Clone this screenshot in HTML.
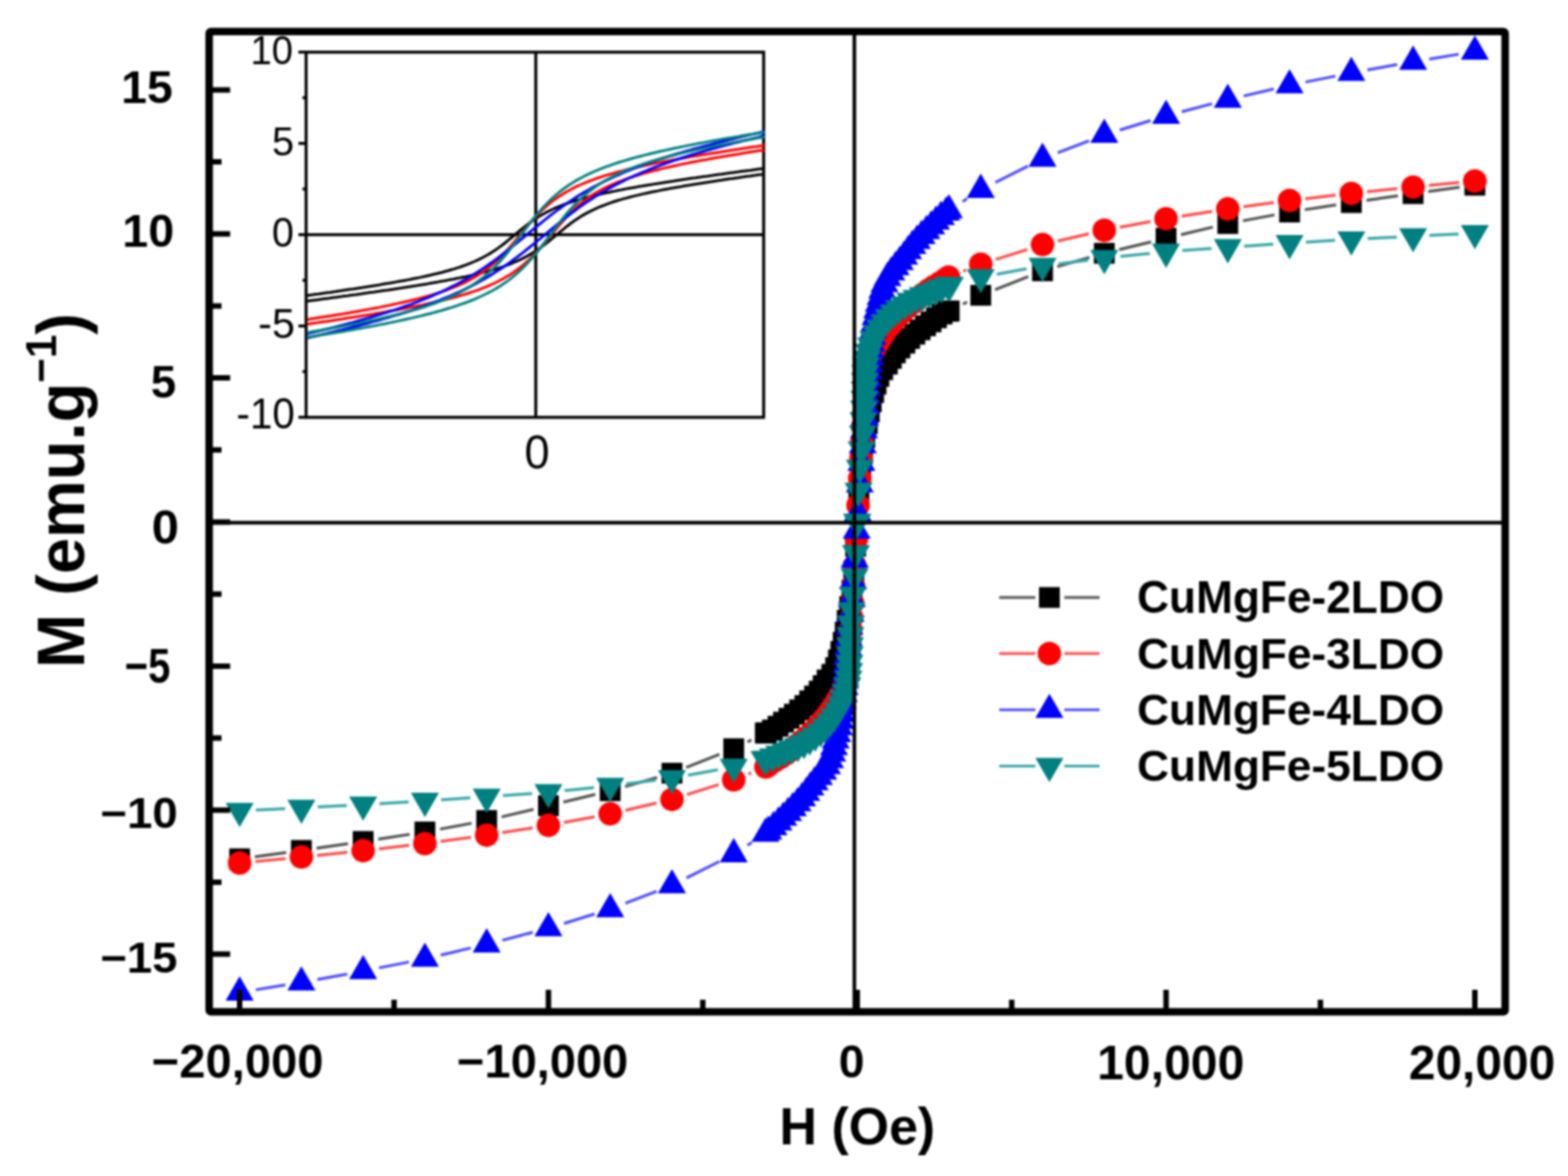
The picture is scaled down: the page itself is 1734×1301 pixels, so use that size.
<!DOCTYPE html><html><head><meta charset="utf-8"><style>html,body{margin:0;padding:0;background:#fff}svg{display:block}</style></head><body><svg xmlns="http://www.w3.org/2000/svg" width="1734" height="1301" viewBox="0 0 1734 1301">
<defs><filter id="bl" x="0" y="0" width="1734" height="1301" filterUnits="userSpaceOnUse" color-interpolation-filters="sRGB"><feGaussianBlur stdDeviation="1.0"/></filter></defs>
<rect width="100%" height="100%" fill="#fff"/>
<g filter="url(#bl)">
<rect width="100%" height="100%" fill="#fff"/>
<path d="M1064.9 336.4L1069.4 334.2 M1100.4 320.4L1137.1 305.9 M1169.3 294.9L1204.8 284.8 M1237.7 276.1L1273.0 267.6 M1306.0 259.6L1341.3 251.3 M1374.5 244.2L1409.4 237.7 M1442.9 232.0L1477.6 226.6 M1511.2 221.6L1545.9 216.6 M1579.5 211.9L1614.2 207.2 M831.1 818.6L826.6 820.8 M795.6 834.6L758.9 849.1 M726.7 860.1L691.2 870.2 M658.3 878.9L623.0 887.4 M590.0 895.4L554.7 903.7 M521.5 910.8L486.6 917.3 M453.1 923.0L418.4 928.4 M384.8 933.4L350.1 938.4 M316.5 943.1L281.8 947.8" stroke="#555555" stroke-width="3.2" fill="none"/>
<g fill="#000000">
<rect x="938.3" y="539.2" width="23.0" height="23.0"/>
<rect x="940.3" y="511.6" width="23.0" height="23.0"/>
<rect x="942.3" y="490.5" width="23.0" height="23.0"/>
<rect x="944.8" y="472.5" width="23.0" height="23.0"/>
<rect x="947.6" y="457.3" width="23.0" height="23.0"/>
<rect x="949.8" y="444.2" width="23.0" height="23.0"/>
<rect x="952.0" y="433.0" width="23.0" height="23.0"/>
<rect x="954.6" y="422.8" width="23.0" height="23.0"/>
<rect x="957.3" y="413.5" width="23.0" height="23.0"/>
<rect x="960.4" y="404.9" width="23.0" height="23.0"/>
<rect x="964.6" y="397.5" width="23.0" height="23.0"/>
<rect x="969.8" y="391.3" width="23.0" height="23.0"/>
<rect x="974.2" y="385.0" width="23.0" height="23.0"/>
<rect x="978.6" y="378.9" width="23.0" height="23.0"/>
<rect x="983.7" y="373.5" width="23.0" height="23.0"/>
<rect x="989.1" y="368.2" width="23.0" height="23.0"/>
<rect x="994.4" y="363.0" width="23.0" height="23.0"/>
<rect x="1000.2" y="358.2" width="23.0" height="23.0"/>
<rect x="1006.0" y="353.4" width="23.0" height="23.0"/>
<rect x="1012.0" y="348.9" width="23.0" height="23.0"/>
<rect x="1018.1" y="344.6" width="23.0" height="23.0"/>
<rect x="1024.1" y="340.1" width="23.0" height="23.0"/>
<rect x="1030.3" y="335.9" width="23.0" height="23.0"/>
<rect x="1037.1" y="332.8" width="23.0" height="23.0"/>
<rect x="1038.2" y="332.5" width="23.0" height="23.0"/>
<rect x="934.7" y="592.8" width="23.0" height="23.0"/>
<rect x="932.7" y="620.4" width="23.0" height="23.0"/>
<rect x="930.7" y="641.5" width="23.0" height="23.0"/>
<rect x="928.2" y="659.5" width="23.0" height="23.0"/>
<rect x="925.4" y="674.7" width="23.0" height="23.0"/>
<rect x="923.2" y="687.8" width="23.0" height="23.0"/>
<rect x="921.0" y="699.0" width="23.0" height="23.0"/>
<rect x="918.4" y="709.2" width="23.0" height="23.0"/>
<rect x="915.7" y="718.5" width="23.0" height="23.0"/>
<rect x="912.6" y="727.1" width="23.0" height="23.0"/>
<rect x="908.4" y="734.5" width="23.0" height="23.0"/>
<rect x="903.2" y="740.7" width="23.0" height="23.0"/>
<rect x="898.8" y="747.0" width="23.0" height="23.0"/>
<rect x="894.4" y="753.1" width="23.0" height="23.0"/>
<rect x="889.3" y="758.5" width="23.0" height="23.0"/>
<rect x="883.9" y="763.8" width="23.0" height="23.0"/>
<rect x="878.6" y="769.0" width="23.0" height="23.0"/>
<rect x="872.8" y="773.8" width="23.0" height="23.0"/>
<rect x="867.0" y="778.6" width="23.0" height="23.0"/>
<rect x="861.0" y="783.1" width="23.0" height="23.0"/>
<rect x="854.9" y="787.4" width="23.0" height="23.0"/>
<rect x="848.9" y="791.9" width="23.0" height="23.0"/>
<rect x="842.7" y="796.1" width="23.0" height="23.0"/>
<rect x="835.9" y="799.2" width="23.0" height="23.0"/>
<rect x="834.8" y="799.5" width="23.0" height="23.0"/>
<rect x="1073.1" y="315.2" width="23.0" height="23.0"/>
<rect x="1141.4" y="288.1" width="23.0" height="23.0"/>
<rect x="1209.7" y="268.7" width="23.0" height="23.0"/>
<rect x="1278.0" y="252.1" width="23.0" height="23.0"/>
<rect x="1346.3" y="235.8" width="23.0" height="23.0"/>
<rect x="1414.6" y="223.1" width="23.0" height="23.0"/>
<rect x="1482.9" y="212.6" width="23.0" height="23.0"/>
<rect x="1551.2" y="202.7" width="23.0" height="23.0"/>
<rect x="1619.5" y="193.4" width="23.0" height="23.0"/>
<rect x="799.9" y="816.8" width="23.0" height="23.0"/>
<rect x="731.6" y="843.9" width="23.0" height="23.0"/>
<rect x="663.3" y="863.3" width="23.0" height="23.0"/>
<rect x="595.0" y="879.9" width="23.0" height="23.0"/>
<rect x="526.7" y="896.2" width="23.0" height="23.0"/>
<rect x="458.4" y="908.9" width="23.0" height="23.0"/>
<rect x="390.1" y="919.4" width="23.0" height="23.0"/>
<rect x="321.8" y="929.3" width="23.0" height="23.0"/>
<rect x="253.5" y="938.6" width="23.0" height="23.0"/>
</g>
<path d="M1065.2 300.0L1068.4 298.8 M1101.3 287.0L1136.2 275.9 M1169.9 266.6L1204.2 258.6 M1238.4 251.4L1272.3 245.1 M1306.8 239.2L1340.5 233.8 M1375.1 228.7L1408.8 224.2 M1443.5 219.8L1477.0 215.9 M1511.8 212.1L1545.3 208.6 M1580.1 205.1L1613.6 201.9 M830.8 855.0L827.6 856.2 M794.7 868.0L759.8 879.1 M726.1 888.4L691.8 896.4 M657.6 903.6L623.7 909.9 M589.2 915.8L555.5 921.2 M520.9 926.3L487.2 930.8 M452.5 935.2L419.0 939.1 M384.2 942.9L350.7 946.4 M315.9 949.9L282.4 953.1" stroke="#ff4d4d" stroke-width="3.2" fill="none"/>
<g fill="#ff0000">
<circle cx="948.9" cy="558.9" r="13.0"/>
<circle cx="950.7" cy="529.2" r="13.0"/>
<circle cx="952.1" cy="506.9" r="13.0"/>
<circle cx="953.2" cy="488.1" r="13.0"/>
<circle cx="954.2" cy="472.0" r="13.0"/>
<circle cx="955.1" cy="458.3" r="13.0"/>
<circle cx="956.0" cy="446.6" r="13.0"/>
<circle cx="956.8" cy="436.0" r="13.0"/>
<circle cx="957.6" cy="426.2" r="13.0"/>
<circle cx="958.2" cy="417.0" r="13.0"/>
<circle cx="959.0" cy="408.5" r="13.0"/>
<circle cx="960.4" cy="400.7" r="13.0"/>
<circle cx="962.9" cy="393.6" r="13.0"/>
<circle cx="966.4" cy="386.9" r="13.0"/>
<circle cx="970.2" cy="380.4" r="13.0"/>
<circle cx="974.1" cy="374.0" r="13.0"/>
<circle cx="978.2" cy="367.8" r="13.0"/>
<circle cx="982.7" cy="361.8" r="13.0"/>
<circle cx="987.6" cy="356.1" r="13.0"/>
<circle cx="992.6" cy="350.5" r="13.0"/>
<circle cx="997.9" cy="345.2" r="13.0"/>
<circle cx="1003.4" cy="340.1" r="13.0"/>
<circle cx="1009.1" cy="335.2" r="13.0"/>
<circle cx="1014.9" cy="330.4" r="13.0"/>
<circle cx="1020.6" cy="325.6" r="13.0"/>
<circle cx="1026.6" cy="321.1" r="13.0"/>
<circle cx="1032.9" cy="317.0" r="13.0"/>
<circle cx="1039.3" cy="313.1" r="13.0"/>
<circle cx="1045.6" cy="309.0" r="13.0"/>
<circle cx="1049.0" cy="306.5" r="13.0"/>
<circle cx="947.1" cy="596.1" r="13.0"/>
<circle cx="945.3" cy="625.8" r="13.0"/>
<circle cx="943.9" cy="648.1" r="13.0"/>
<circle cx="942.8" cy="666.9" r="13.0"/>
<circle cx="941.8" cy="683.0" r="13.0"/>
<circle cx="940.9" cy="696.7" r="13.0"/>
<circle cx="940.0" cy="708.4" r="13.0"/>
<circle cx="939.2" cy="719.0" r="13.0"/>
<circle cx="938.4" cy="728.8" r="13.0"/>
<circle cx="937.8" cy="738.0" r="13.0"/>
<circle cx="937.0" cy="746.5" r="13.0"/>
<circle cx="935.6" cy="754.3" r="13.0"/>
<circle cx="933.1" cy="761.4" r="13.0"/>
<circle cx="929.6" cy="768.1" r="13.0"/>
<circle cx="925.8" cy="774.6" r="13.0"/>
<circle cx="921.9" cy="781.0" r="13.0"/>
<circle cx="917.8" cy="787.2" r="13.0"/>
<circle cx="913.3" cy="793.2" r="13.0"/>
<circle cx="908.4" cy="798.9" r="13.0"/>
<circle cx="903.4" cy="804.5" r="13.0"/>
<circle cx="898.1" cy="809.8" r="13.0"/>
<circle cx="892.6" cy="814.9" r="13.0"/>
<circle cx="886.9" cy="819.8" r="13.0"/>
<circle cx="881.1" cy="824.6" r="13.0"/>
<circle cx="875.4" cy="829.4" r="13.0"/>
<circle cx="869.4" cy="833.9" r="13.0"/>
<circle cx="863.1" cy="838.0" r="13.0"/>
<circle cx="856.7" cy="841.9" r="13.0"/>
<circle cx="850.4" cy="846.0" r="13.0"/>
<circle cx="847.0" cy="848.5" r="13.0"/>
<circle cx="1084.6" cy="292.3" r="13.0"/>
<circle cx="1152.9" cy="270.6" r="13.0"/>
<circle cx="1221.2" cy="254.7" r="13.0"/>
<circle cx="1289.5" cy="241.9" r="13.0"/>
<circle cx="1357.8" cy="231.1" r="13.0"/>
<circle cx="1426.1" cy="221.8" r="13.0"/>
<circle cx="1494.4" cy="213.9" r="13.0"/>
<circle cx="1562.7" cy="206.9" r="13.0"/>
<circle cx="1631.0" cy="200.2" r="13.0"/>
<circle cx="811.4" cy="862.7" r="13.0"/>
<circle cx="743.1" cy="884.4" r="13.0"/>
<circle cx="674.8" cy="900.3" r="13.0"/>
<circle cx="606.5" cy="913.1" r="13.0"/>
<circle cx="538.2" cy="923.9" r="13.0"/>
<circle cx="469.9" cy="933.2" r="13.0"/>
<circle cx="401.6" cy="941.1" r="13.0"/>
<circle cx="333.3" cy="948.1" r="13.0"/>
<circle cx="265.0" cy="954.8" r="13.0"/>
</g>
<path d="M1064.5 223.0L1069.5 219.8 M1100.7 201.9L1136.8 183.7 M1169.7 169.1L1204.4 155.7 M1238.4 143.9L1272.3 133.4 M1306.9 123.6L1340.4 114.8 M1375.3 106.2L1408.6 98.4 M1443.7 90.8L1476.8 84.2 M1512.1 77.4L1545.0 71.4 M1580.5 65.3L1613.2 60.0 M831.5 932.0L826.5 935.2 M795.3 953.1L759.2 971.3 M726.3 985.9L691.6 999.3 M657.6 1011.1L623.7 1021.6 M589.1 1031.4L555.6 1040.2 M520.7 1048.8L487.4 1056.6 M452.3 1064.2L419.2 1070.8 M383.9 1077.6L351.0 1083.6 M315.5 1089.7L282.8 1095.0" stroke="#5050ff" stroke-width="3.2" fill="none"/>
<g fill="#0000ff">
<path d="M948.6 550.0L964.1 576.8L933.1 576.8Z"/>
<path d="M950.8 518.0L966.3 544.8L935.3 544.8Z"/>
<path d="M952.6 494.2L968.1 521.0L937.1 521.0Z"/>
<path d="M954.1 474.6L969.6 501.5L938.6 501.5Z"/>
<path d="M955.5 458.0L971.0 484.8L940.0 484.8Z"/>
<path d="M956.6 443.7L972.1 470.5L941.1 470.5Z"/>
<path d="M957.5 431.5L973.0 458.3L942.0 458.3Z"/>
<path d="M958.3 420.8L973.8 447.6L942.8 447.6Z"/>
<path d="M959.0 410.8L974.5 437.6L943.5 437.6Z"/>
<path d="M959.8 401.4L975.3 428.3L944.3 428.3Z"/>
<path d="M960.5 392.7L976.0 419.6L945.0 419.6Z"/>
<path d="M961.2 384.6L976.7 411.5L945.7 411.5Z"/>
<path d="M962.0 377.1L977.5 403.9L946.5 403.9Z"/>
<path d="M962.9 369.6L978.4 396.5L947.4 396.5Z"/>
<path d="M963.8 362.2L979.3 389.0L948.3 389.0Z"/>
<path d="M964.8 354.7L980.3 381.6L949.3 381.6Z"/>
<path d="M965.9 347.3L981.4 374.2L950.4 374.2Z"/>
<path d="M967.0 339.9L982.5 366.7L951.5 366.7Z"/>
<path d="M968.3 332.5L983.8 359.4L952.8 359.4Z"/>
<path d="M970.0 325.2L985.5 352.0L954.5 352.0Z"/>
<path d="M971.8 317.9L987.3 344.8L956.3 344.8Z"/>
<path d="M973.7 310.7L989.2 337.5L958.2 337.5Z"/>
<path d="M975.6 303.4L991.1 330.3L960.1 330.3Z"/>
<path d="M978.1 296.3L993.6 323.2L962.6 323.2Z"/>
<path d="M981.4 289.6L996.9 316.5L965.9 316.5Z"/>
<path d="M985.7 283.4L1001.2 310.3L970.2 310.3Z"/>
<path d="M990.4 277.6L1005.9 304.5L974.9 304.5Z"/>
<path d="M995.1 271.8L1010.6 298.7L979.6 298.7Z"/>
<path d="M999.8 265.9L1015.3 292.8L984.3 292.8Z"/>
<path d="M1004.3 260.0L1019.8 286.8L988.8 286.8Z"/>
<path d="M1009.0 254.1L1024.5 281.0L993.5 281.0Z"/>
<path d="M1014.0 248.5L1029.5 275.4L998.5 275.4Z"/>
<path d="M1019.2 243.1L1034.7 270.0L1003.7 270.0Z"/>
<path d="M1024.5 237.8L1040.0 264.6L1009.0 264.6Z"/>
<path d="M1029.8 232.5L1045.3 259.3L1014.3 259.3Z"/>
<path d="M1035.1 227.2L1050.6 254.1L1019.6 254.1Z"/>
<path d="M1040.6 222.1L1056.1 249.0L1025.1 249.0Z"/>
<path d="M1046.3 217.2L1061.8 244.1L1030.8 244.1Z"/>
<path d="M1049.4 214.8L1064.9 241.6L1033.9 241.6Z"/>
<path d="M947.4 569.2L962.9 596.1L931.9 596.1Z"/>
<path d="M945.2 601.2L960.7 628.1L929.7 628.1Z"/>
<path d="M943.4 625.0L958.9 651.9L927.9 651.9Z"/>
<path d="M941.9 644.6L957.4 671.4L926.4 671.4Z"/>
<path d="M940.5 661.2L956.0 688.1L925.0 688.1Z"/>
<path d="M939.4 675.5L954.9 702.4L923.9 702.4Z"/>
<path d="M938.5 687.7L954.0 714.6L923.0 714.6Z"/>
<path d="M937.7 698.4L953.2 725.3L922.2 725.3Z"/>
<path d="M937.0 708.5L952.5 735.3L921.5 735.3Z"/>
<path d="M936.2 717.8L951.7 744.6L920.7 744.6Z"/>
<path d="M935.5 726.5L951.0 753.3L920.0 753.3Z"/>
<path d="M934.8 734.6L950.3 761.4L919.3 761.4Z"/>
<path d="M934.0 742.1L949.5 769.0L918.5 769.0Z"/>
<path d="M933.1 749.6L948.6 776.4L917.6 776.4Z"/>
<path d="M932.2 757.0L947.7 783.9L916.7 783.9Z"/>
<path d="M931.2 764.5L946.7 791.3L915.7 791.3Z"/>
<path d="M930.1 771.9L945.6 798.7L914.6 798.7Z"/>
<path d="M929.0 779.3L944.5 806.2L913.5 806.2Z"/>
<path d="M927.7 786.7L943.2 813.5L912.2 813.5Z"/>
<path d="M926.0 794.0L941.5 820.9L910.5 820.9Z"/>
<path d="M924.2 801.3L939.7 828.1L908.7 828.1Z"/>
<path d="M922.3 808.5L937.8 835.4L906.8 835.4Z"/>
<path d="M920.4 815.8L935.9 842.6L904.9 842.6Z"/>
<path d="M917.9 822.9L933.4 849.7L902.4 849.7Z"/>
<path d="M914.6 829.6L930.1 856.4L899.1 856.4Z"/>
<path d="M910.3 835.8L925.8 862.6L894.8 862.6Z"/>
<path d="M905.6 841.6L921.1 868.4L890.1 868.4Z"/>
<path d="M900.9 847.4L916.4 874.2L885.4 874.2Z"/>
<path d="M896.2 853.3L911.7 880.1L880.7 880.1Z"/>
<path d="M891.7 859.2L907.2 886.1L876.2 886.1Z"/>
<path d="M887.0 865.1L902.5 891.9L871.5 891.9Z"/>
<path d="M882.0 870.7L897.5 897.5L866.5 897.5Z"/>
<path d="M876.8 876.1L892.3 902.9L861.3 902.9Z"/>
<path d="M871.5 881.4L887.0 908.3L856.0 908.3Z"/>
<path d="M866.2 886.7L881.7 913.6L850.7 913.6Z"/>
<path d="M860.9 892.0L876.4 918.8L845.4 918.8Z"/>
<path d="M855.4 897.1L870.9 923.9L839.9 923.9Z"/>
<path d="M849.7 902.0L865.2 928.8L834.2 928.8Z"/>
<path d="M846.6 904.4L862.1 931.2L831.1 931.2Z"/>
<path d="M1084.6 192.1L1100.1 219.0L1069.1 219.0Z"/>
<path d="M1152.9 157.7L1168.4 184.6L1137.4 184.6Z"/>
<path d="M1221.2 131.3L1236.7 158.1L1205.7 158.1Z"/>
<path d="M1289.5 110.2L1305.0 137.1L1274.0 137.1Z"/>
<path d="M1357.8 92.4L1373.3 119.2L1342.3 119.2Z"/>
<path d="M1426.1 76.5L1441.6 103.3L1410.6 103.3Z"/>
<path d="M1494.4 62.7L1509.9 89.6L1478.9 89.6Z"/>
<path d="M1562.7 50.3L1578.2 77.2L1547.2 77.2Z"/>
<path d="M1631.0 39.2L1646.5 66.0L1615.5 66.0Z"/>
<path d="M811.4 927.1L826.9 953.9L795.9 953.9Z"/>
<path d="M743.1 961.5L758.6 988.3L727.6 988.3Z"/>
<path d="M674.8 987.9L690.3 1014.8L659.3 1014.8Z"/>
<path d="M606.5 1009.0L622.0 1035.8L591.0 1035.8Z"/>
<path d="M538.2 1026.8L553.7 1053.7L522.7 1053.7Z"/>
<path d="M469.9 1042.8L485.4 1069.6L454.4 1069.6Z"/>
<path d="M401.6 1056.5L417.1 1083.3L386.1 1083.3Z"/>
<path d="M333.3 1068.9L348.8 1095.7L317.8 1095.7Z"/>
<path d="M265.0 1080.0L280.5 1106.9L249.5 1106.9Z"/>
</g>
<path d="M1102.3 303.4L1135.2 297.4 M1170.8 291.9L1203.3 287.8 M1239.1 283.7L1271.6 280.4 M1307.5 277.2L1339.8 274.8 M1375.8 272.3L1408.1 270.2 M1444.1 267.9L1476.4 265.9 M1512.4 263.9L1544.7 262.3 M1580.7 260.4L1613.0 258.8 M793.7 851.6L760.8 857.6 M725.2 863.1L692.7 867.2 M656.9 871.3L624.4 874.6 M588.5 877.8L556.2 880.2 M520.2 882.7L487.9 884.8 M451.9 887.1L419.6 889.1 M383.6 891.1L351.3 892.7 M315.3 894.6L283.0 896.2" stroke="#3aa8a8" stroke-width="3.2" fill="none"/>
<g fill="#008080">
<path d="M948.0 595.4L963.5 568.6L932.5 568.6Z"/>
<path d="M949.4 560.9L964.9 534.0L933.9 534.0Z"/>
<path d="M950.9 535.3L966.4 508.4L935.4 508.4Z"/>
<path d="M952.8 515.0L968.3 488.2L937.3 488.2Z"/>
<path d="M954.2 497.7L969.7 470.8L938.7 470.8Z"/>
<path d="M955.0 482.8L970.5 456.0L939.5 456.0Z"/>
<path d="M955.6 470.1L971.1 443.3L940.1 443.3Z"/>
<path d="M956.0 459.1L971.5 432.3L940.5 432.3Z"/>
<path d="M956.3 448.9L971.8 422.1L940.8 422.1Z"/>
<path d="M956.6 439.4L972.1 412.6L941.1 412.6Z"/>
<path d="M956.9 430.5L972.4 403.7L941.4 403.7Z"/>
<path d="M957.6 422.3L973.1 395.4L942.1 395.4Z"/>
<path d="M958.9 414.7L974.4 387.8L943.4 387.8Z"/>
<path d="M960.9 407.5L976.4 380.6L945.4 380.6Z"/>
<path d="M963.2 400.3L978.7 373.5L947.7 373.5Z"/>
<path d="M965.9 393.3L981.4 366.5L950.4 366.5Z"/>
<path d="M969.3 386.7L984.8 359.8L953.8 359.8Z"/>
<path d="M973.5 380.4L989.0 353.6L958.0 353.6Z"/>
<path d="M978.1 374.5L993.6 347.7L962.6 347.7Z"/>
<path d="M983.0 368.9L998.5 342.0L967.5 342.0Z"/>
<path d="M988.5 363.7L1004.0 336.9L973.0 336.9Z"/>
<path d="M994.4 359.1L1009.9 332.2L978.9 332.2Z"/>
<path d="M1000.5 354.7L1016.0 327.9L985.0 327.9Z"/>
<path d="M1006.9 350.8L1022.4 324.0L991.4 324.0Z"/>
<path d="M1013.6 347.5L1029.1 320.7L998.1 320.7Z"/>
<path d="M1020.5 344.7L1036.0 317.8L1005.0 317.8Z"/>
<path d="M1027.5 341.8L1043.0 315.0L1012.0 315.0Z"/>
<path d="M1034.3 338.8L1049.8 312.0L1018.8 312.0Z"/>
<path d="M1041.2 335.9L1056.7 309.1L1025.7 309.1Z"/>
<path d="M1048.4 333.6L1063.9 306.8L1032.9 306.8Z"/>
<path d="M1050.5 333.1L1066.0 306.3L1035.0 306.3Z"/>
<path d="M948.0 595.4L963.5 568.6L932.5 568.6Z"/>
<path d="M946.6 629.9L962.1 603.1L931.1 603.1Z"/>
<path d="M945.1 655.5L960.6 628.7L929.6 628.7Z"/>
<path d="M943.2 675.8L958.7 648.9L927.7 648.9Z"/>
<path d="M941.8 693.1L957.3 666.3L926.3 666.3Z"/>
<path d="M941.0 708.0L956.5 681.1L925.5 681.1Z"/>
<path d="M940.4 720.7L955.9 693.8L924.9 693.8Z"/>
<path d="M940.0 731.7L955.5 704.9L924.5 704.9Z"/>
<path d="M939.7 741.9L955.2 715.0L924.2 715.0Z"/>
<path d="M939.4 751.4L954.9 724.6L923.9 724.6Z"/>
<path d="M939.1 760.3L954.6 733.4L923.6 733.4Z"/>
<path d="M938.4 768.5L953.9 741.7L922.9 741.7Z"/>
<path d="M937.1 776.1L952.6 749.3L921.6 749.3Z"/>
<path d="M935.1 783.3L950.6 756.5L919.6 756.5Z"/>
<path d="M932.8 790.5L948.3 763.6L917.3 763.6Z"/>
<path d="M930.1 797.5L945.6 770.6L914.6 770.6Z"/>
<path d="M926.7 804.1L942.2 777.3L911.2 777.3Z"/>
<path d="M922.5 810.4L938.0 783.5L907.0 783.5Z"/>
<path d="M917.9 816.3L933.4 789.4L902.4 789.4Z"/>
<path d="M913.0 821.9L928.5 795.1L897.5 795.1Z"/>
<path d="M907.5 827.0L923.0 800.2L892.0 800.2Z"/>
<path d="M901.6 831.7L917.1 804.9L886.1 804.9Z"/>
<path d="M895.5 836.1L911.0 809.2L880.0 809.2Z"/>
<path d="M889.1 840.0L904.6 813.1L873.6 813.1Z"/>
<path d="M882.4 843.3L897.9 816.4L866.9 816.4Z"/>
<path d="M875.5 846.1L891.0 819.3L860.0 819.3Z"/>
<path d="M868.5 848.9L884.0 822.1L853.0 822.1Z"/>
<path d="M861.7 852.0L877.2 825.1L846.2 825.1Z"/>
<path d="M854.8 854.9L870.3 828.0L839.3 828.0Z"/>
<path d="M847.6 857.2L863.1 830.4L832.1 830.4Z"/>
<path d="M845.5 857.7L861.0 830.9L830.0 830.9Z"/>
<path d="M1084.6 324.5L1100.1 297.7L1069.1 297.7Z"/>
<path d="M1152.9 312.1L1168.4 285.2L1137.4 285.2Z"/>
<path d="M1221.2 303.5L1236.7 276.6L1205.7 276.6Z"/>
<path d="M1289.5 296.5L1305.0 269.6L1274.0 269.6Z"/>
<path d="M1357.8 291.4L1373.3 264.5L1342.3 264.5Z"/>
<path d="M1426.1 286.9L1441.6 260.0L1410.6 260.0Z"/>
<path d="M1494.4 282.8L1509.9 255.9L1478.9 255.9Z"/>
<path d="M1562.7 279.2L1578.2 252.4L1547.2 252.4Z"/>
<path d="M1631.0 275.7L1646.5 248.9L1615.5 248.9Z"/>
<path d="M811.4 866.3L826.9 839.4L795.9 839.4Z"/>
<path d="M743.1 878.7L758.6 851.9L727.6 851.9Z"/>
<path d="M674.8 887.3L690.3 860.5L659.3 860.5Z"/>
<path d="M606.5 894.3L622.0 867.5L591.0 867.5Z"/>
<path d="M538.2 899.4L553.7 872.6L522.7 872.6Z"/>
<path d="M469.9 903.9L485.4 877.1L454.4 877.1Z"/>
<path d="M401.6 908.0L417.1 881.2L386.1 881.2Z"/>
<path d="M333.3 911.5L348.8 884.7L317.8 884.7Z"/>
<path d="M265.0 915.1L280.5 888.2L249.5 888.2Z"/>
</g>
<path d="M235 578.3H1661M944.8 39V1116" stroke="#000" stroke-width="4" fill="none"/>
<rect x="231.3" y="34.8" width="1433.2" height="1084.6" rx="2" fill="none" stroke="#000" stroke-width="8.3" stroke-linejoin="round"/>
<path d="M235 1055.5H254.5 M235 975.9H245.0 M235 896.2H254.5 M235 816.5H245.0 M235 736.9H254.5 M235 657.2H245.0 M235 577.5H254.5 M235 497.8H245.0 M235 418.1H254.5 M235 338.5H245.0 M235 258.8H254.5 M235 179.1H245.0 M235 99.4H254.5 M265.0 1116V1095 M435.8 1116V1106 M606.5 1116V1095 M777.2 1116V1106 M948.0 1116V1095 M1118.8 1116V1106 M1289.5 1116V1095 M1460.2 1116V1106 M1631.0 1116V1095" stroke="#000" stroke-width="6" fill="none"/>
<path d="M1105 661H1145M1177 661H1216" stroke="#555555" stroke-width="3"/>
<g fill="#000000"><rect x="1149.0" y="649.5" width="23.0" height="23.0"/></g>
<path d="M1105 723H1145M1177 723H1216" stroke="#ff4d4d" stroke-width="3"/>
<g fill="#ff0000"><circle cx="1160.5" cy="723.0" r="13.0"/></g>
<path d="M1105 785.3H1145M1177 785.3H1216" stroke="#5050ff" stroke-width="3"/>
<g fill="#0000ff"><path d="M1160.5 767.4L1176.0 794.2L1145.0 794.2Z"/></g>
<path d="M1105 847.4H1145M1177 847.4H1216" stroke="#3aa8a8" stroke-width="3"/>
<g fill="#008080"><path d="M1160.5 865.3L1176.0 838.5L1145.0 838.5Z"/></g>
<rect x="338.5" y="57.7" width="506" height="404" fill="none" stroke="#000" stroke-width="3.3"/>
<path d="M338.5 259.7H844.5M592.5 57.7V461.7" stroke="#000" stroke-width="3.3" fill="none"/>
<path d="M338.5 461.7H330 M338.5 411.2H334.5 M338.5 360.7H330 M338.5 310.2H334.5 M338.5 259.7H330 M338.5 209.2H334.5 M338.5 158.7H330 M338.5 108.2H334.5 M338.5 57.7H330" stroke="#000" stroke-width="3.3" fill="none"/>
<g fill="none" stroke-width="3" stroke-linejoin="round">
<path d="M339.5 327.0L342.7 326.5L345.9 326.1L349.0 325.6L352.2 325.2L355.4 324.7L358.6 324.3L361.8 323.8L365.0 323.4L368.1 322.9L371.3 322.5L374.5 322.0L377.7 321.6L380.9 321.1L384.1 320.6L387.2 320.1L390.4 319.7L393.6 319.2L396.8 318.7L400.0 318.2L403.1 317.7L406.3 317.2L409.5 316.7L412.7 316.2L415.9 315.7L419.1 315.2L422.2 314.6L425.4 314.1L428.6 313.6L431.8 313.0L435.0 312.5L438.2 311.9L441.3 311.3L444.5 310.8L447.7 310.2L450.9 309.6L454.1 309.0L457.2 308.3L460.4 307.7L463.6 307.1L466.8 306.4L470.0 305.7L473.2 305.0L476.3 304.3L479.5 303.5L482.7 302.8L485.9 302.0L489.1 301.2L492.3 300.3L495.4 299.5L498.6 298.5L501.8 297.6L505.0 296.6L508.2 295.6L511.3 294.5L514.5 293.3L517.7 292.1L520.9 290.9L524.1 289.5L527.3 288.1L530.4 286.6L533.6 285.0L536.8 283.3L540.0 281.5L543.2 279.6L546.4 277.5L549.5 275.4L552.7 273.1L555.9 270.7L559.1 268.2L562.3 265.6L565.4 263.0L568.6 260.3L571.8 257.7L575.0 255.0L578.2 252.4L581.4 249.9L584.5 247.5L587.7 245.1L590.9 242.9L594.1 240.8L597.3 238.8L600.5 237.0L603.6 235.2L606.8 233.6L610.0 232.0L613.2 230.5L616.4 229.2L619.6 227.9L622.7 226.6L625.9 225.5L629.1 224.3L632.3 223.3L635.5 222.3L638.6 221.3L641.8 220.4L645.0 219.5L648.2 218.6L651.4 217.8L654.6 217.0L657.7 216.2L660.9 215.5L664.1 214.7L667.3 214.0L670.5 213.3L673.7 212.7L676.8 212.0L680.0 211.4L683.2 210.7L686.4 210.1L689.6 209.5L692.7 208.9L695.9 208.3L699.1 207.8L702.3 207.2L705.5 206.6L708.7 206.1L711.8 205.5L715.0 205.0L718.2 204.5L721.4 204.0L724.6 203.4L727.8 202.9L730.9 202.4L734.1 201.9L737.3 201.4L740.5 200.9L743.7 200.5L746.8 200.0L750.0 199.5L753.2 199.0L756.4 198.5L759.6 198.1L762.8 197.6L765.9 197.1L769.1 196.7L772.3 196.2L775.5 195.8L778.7 195.3L781.9 194.9L785.0 194.4L788.2 194.0L791.4 193.5L794.6 193.1L797.8 192.7L800.9 192.2L804.1 191.8L807.3 191.3L810.5 190.9L813.7 190.5L816.9 190.1L820.0 189.6L823.2 189.2L826.4 188.8L829.6 188.4L832.8 187.9L836.0 187.5L839.1 187.1L842.3 186.7L845.5 186.3" stroke="#000000"/>
<path d="M339.5 333.1L342.7 332.7L345.9 332.3L349.0 331.9L352.2 331.5L355.4 331.0L358.6 330.6L361.8 330.2L365.0 329.8L368.1 329.3L371.3 328.9L374.5 328.5L377.7 328.1L380.9 327.6L384.1 327.2L387.2 326.7L390.4 326.3L393.6 325.9L396.8 325.4L400.0 325.0L403.1 324.5L406.3 324.1L409.5 323.6L412.7 323.2L415.9 322.7L419.1 322.3L422.2 321.8L425.4 321.3L428.6 320.9L431.8 320.4L435.0 319.9L438.2 319.4L441.3 318.9L444.5 318.5L447.7 318.0L450.9 317.5L454.1 317.0L457.2 316.5L460.4 316.0L463.6 315.4L466.8 314.9L470.0 314.4L473.2 313.9L476.3 313.3L479.5 312.8L482.7 312.2L485.9 311.6L489.1 311.1L492.3 310.5L495.4 309.9L498.6 309.3L501.8 308.7L505.0 308.0L508.2 307.4L511.3 306.7L514.5 306.1L517.7 305.4L520.9 304.7L524.1 303.9L527.3 303.2L530.4 302.4L533.6 301.6L536.8 300.8L540.0 299.9L543.2 299.0L546.4 298.1L549.5 297.1L552.7 296.1L555.9 295.1L559.1 293.9L562.3 292.8L565.4 291.5L568.6 290.2L571.8 288.9L575.0 287.4L578.2 285.8L581.4 284.2L584.5 282.4L587.7 280.6L590.9 278.6L594.1 276.5L597.3 274.3L600.5 271.9L603.6 269.5L606.8 267.0L610.0 264.4L613.2 261.7L616.4 259.1L619.6 256.4L622.7 253.8L625.9 251.2L629.1 248.7L632.3 246.3L635.5 244.0L638.6 241.9L641.8 239.8L645.0 237.9L648.2 236.1L651.4 234.4L654.6 232.8L657.7 231.3L660.9 229.9L664.1 228.5L667.3 227.3L670.5 226.1L673.7 224.9L676.8 223.8L680.0 222.8L683.2 221.8L686.4 220.9L689.6 219.9L692.7 219.1L695.9 218.2L699.1 217.4L702.3 216.6L705.5 215.9L708.7 215.1L711.8 214.4L715.0 213.7L718.2 213.0L721.4 212.3L724.6 211.7L727.8 211.1L730.9 210.4L734.1 209.8L737.3 209.2L740.5 208.6L743.7 208.1L746.8 207.5L750.0 206.9L753.2 206.4L756.4 205.8L759.6 205.3L762.8 204.8L765.9 204.2L769.1 203.7L772.3 203.2L775.5 202.7L778.7 202.2L781.9 201.7L785.0 201.2L788.2 200.7L791.4 200.2L794.6 199.7L797.8 199.3L800.9 198.8L804.1 198.3L807.3 197.8L810.5 197.4L813.7 196.9L816.9 196.5L820.0 196.0L823.2 195.6L826.4 195.1L829.6 194.7L832.8 194.2L836.0 193.8L839.1 193.3L842.3 192.9L845.5 192.4" stroke="#000000"/>
<path d="M339.5 353.5L342.7 353.1L345.9 352.6L349.0 352.1L352.2 351.6L355.4 351.1L358.6 350.6L361.8 350.1L365.0 349.6L368.1 349.0L371.3 348.5L374.5 348.0L377.7 347.5L380.9 346.9L384.1 346.4L387.2 345.9L390.4 345.3L393.6 344.8L396.8 344.2L400.0 343.6L403.1 343.0L406.3 342.5L409.5 341.9L412.7 341.3L415.9 340.7L419.1 340.1L422.2 339.4L425.4 338.8L428.6 338.1L431.8 337.5L435.0 336.8L438.2 336.1L441.3 335.4L444.5 334.7L447.7 334.0L450.9 333.3L454.1 332.5L457.2 331.7L460.4 330.9L463.6 330.1L466.8 329.3L470.0 328.4L473.2 327.5L476.3 326.6L479.5 325.6L482.7 324.7L485.9 323.6L489.1 322.6L492.3 321.5L495.4 320.3L498.6 319.1L501.8 317.9L505.0 316.6L508.2 315.2L511.3 313.8L514.5 312.3L517.7 310.7L520.9 309.0L524.1 307.2L527.3 305.3L530.4 303.3L533.6 301.2L536.8 298.9L540.0 296.5L543.2 293.9L546.4 291.2L549.5 288.3L552.7 285.3L555.9 282.1L559.1 278.7L562.3 275.2L565.4 271.5L568.6 267.8L571.8 263.9L575.0 260.1L578.2 256.2L581.4 252.4L584.5 248.6L587.7 244.9L590.9 241.4L594.1 238.0L597.3 234.7L600.5 231.6L603.6 228.7L606.8 226.0L610.0 223.4L613.2 220.9L616.4 218.7L619.6 216.5L622.7 214.5L625.9 212.6L629.1 210.8L632.3 209.1L635.5 207.4L638.6 205.9L641.8 204.5L645.0 203.1L648.2 201.8L651.4 200.5L654.6 199.3L657.7 198.1L660.9 197.0L664.1 196.0L667.3 194.9L670.5 193.9L673.7 193.0L676.8 192.1L680.0 191.2L683.2 190.3L686.4 189.4L689.6 188.6L692.7 187.8L695.9 187.0L699.1 186.3L702.3 185.5L705.5 184.8L708.7 184.1L711.8 183.4L715.0 182.7L718.2 182.0L721.4 181.4L724.6 180.7L727.8 180.1L730.9 179.5L734.1 178.8L737.3 178.2L740.5 177.6L743.7 177.0L746.8 176.5L750.0 175.9L753.2 175.3L756.4 174.8L759.6 174.2L762.8 173.6L765.9 173.1L769.1 172.6L772.3 172.0L775.5 171.5L778.7 171.0L781.9 170.5L785.0 169.9L788.2 169.4L791.4 168.9L794.6 168.4L797.8 167.9L800.9 167.4L804.1 166.9L807.3 166.4L810.5 166.0L813.7 165.5L816.9 165.0L820.0 164.5L823.2 164.0L826.4 163.6L829.6 163.1L832.8 162.6L836.0 162.2L839.1 161.7L842.3 161.2L845.5 160.8" stroke="#ff0000"/>
<path d="M339.5 358.6L342.7 358.2L345.9 357.7L349.0 357.2L352.2 356.8L355.4 356.3L358.6 355.8L361.8 355.4L365.0 354.9L368.1 354.4L371.3 353.9L374.5 353.4L377.7 353.0L380.9 352.5L384.1 352.0L387.2 351.5L390.4 351.0L393.6 350.5L396.8 350.0L400.0 349.5L403.1 348.9L406.3 348.4L409.5 347.9L412.7 347.4L415.9 346.8L419.1 346.3L422.2 345.8L425.4 345.2L428.6 344.6L431.8 344.1L435.0 343.5L438.2 342.9L441.3 342.4L444.5 341.8L447.7 341.2L450.9 340.6L454.1 339.9L457.2 339.3L460.4 338.7L463.6 338.0L466.8 337.4L470.0 336.7L473.2 336.0L476.3 335.3L479.5 334.6L482.7 333.9L485.9 333.1L489.1 332.4L492.3 331.6L495.4 330.8L498.6 330.0L501.8 329.1L505.0 328.2L508.2 327.3L511.3 326.4L514.5 325.5L517.7 324.5L520.9 323.4L524.1 322.4L527.3 321.3L530.4 320.1L533.6 318.9L536.8 317.6L540.0 316.3L543.2 314.9L546.4 313.5L549.5 312.0L552.7 310.3L555.9 308.6L559.1 306.8L562.3 304.9L565.4 302.9L568.6 300.7L571.8 298.5L575.0 296.0L578.2 293.4L581.4 290.7L584.5 287.8L587.7 284.7L590.9 281.4L594.1 278.0L597.3 274.5L600.5 270.8L603.6 267.0L606.8 263.2L610.0 259.3L613.2 255.5L616.4 251.6L619.6 247.9L622.7 244.2L625.9 240.7L629.1 237.3L632.3 234.1L635.5 231.1L638.6 228.2L641.8 225.5L645.0 222.9L648.2 220.5L651.4 218.2L654.6 216.1L657.7 214.1L660.9 212.2L664.1 210.4L667.3 208.7L670.5 207.1L673.7 205.6L676.8 204.2L680.0 202.8L683.2 201.5L686.4 200.3L689.6 199.1L692.7 197.9L695.9 196.8L699.1 195.8L702.3 194.7L705.5 193.8L708.7 192.8L711.8 191.9L715.0 191.0L718.2 190.1L721.4 189.3L724.6 188.5L727.8 187.7L730.9 186.9L734.1 186.1L737.3 185.4L740.5 184.7L743.7 184.0L746.8 183.3L750.0 182.6L753.2 181.9L756.4 181.3L759.6 180.6L762.8 180.0L765.9 179.3L769.1 178.7L772.3 178.1L775.5 177.5L778.7 176.9L781.9 176.4L785.0 175.8L788.2 175.2L791.4 174.6L794.6 174.1L797.8 173.5L800.9 173.0L804.1 172.5L807.3 171.9L810.5 171.4L813.7 170.9L816.9 170.4L820.0 169.8L823.2 169.3L826.4 168.8L829.6 168.3L832.8 167.8L836.0 167.3L839.1 166.8L842.3 166.3L845.5 165.9" stroke="#ff0000"/>
<path d="M339.5 369.3L342.7 368.6L345.9 367.8L349.0 367.0L352.2 366.3L355.4 365.5L358.6 364.7L361.8 364.0L365.0 363.2L368.1 362.4L371.3 361.6L374.5 360.8L377.7 359.9L380.9 359.1L384.1 358.3L387.2 357.4L390.4 356.6L393.6 355.7L396.8 354.8L400.0 353.9L403.1 353.0L406.3 352.1L409.5 351.2L412.7 350.3L415.9 349.3L419.1 348.4L422.2 347.4L425.4 346.4L428.6 345.4L431.8 344.4L435.0 343.4L438.2 342.3L441.3 341.2L444.5 340.1L447.7 339.0L450.9 337.9L454.1 336.8L457.2 335.6L460.4 334.4L463.6 333.2L466.8 331.9L470.0 330.6L473.2 329.3L476.3 328.0L479.5 326.6L482.7 325.2L485.9 323.8L489.1 322.4L492.3 320.9L495.4 319.3L498.6 317.7L501.8 316.1L505.0 314.5L508.2 312.8L511.3 311.0L514.5 309.2L517.7 307.4L520.9 305.5L524.1 303.5L527.3 301.6L530.4 299.5L533.6 297.4L536.8 295.3L540.0 293.1L543.2 290.8L546.4 288.5L549.5 286.2L552.7 283.8L555.9 281.3L559.1 278.8L562.3 276.3L565.4 273.8L568.6 271.2L571.8 268.6L575.0 265.9L578.2 263.3L581.4 260.6L584.5 258.0L587.7 255.3L590.9 252.7L594.1 250.1L597.3 247.5L600.5 244.9L603.6 242.4L606.8 239.8L610.0 237.4L613.2 234.9L616.4 232.6L619.6 230.2L622.7 227.9L625.9 225.7L629.1 223.5L632.3 221.4L635.5 219.3L638.6 217.3L641.8 215.3L645.0 213.4L648.2 211.5L651.4 209.7L654.6 207.9L657.7 206.1L660.9 204.5L664.1 202.8L667.3 201.2L670.5 199.6L673.7 198.1L676.8 196.6L680.0 195.2L683.2 193.8L686.4 192.4L689.6 191.0L692.7 189.7L695.9 188.4L699.1 187.1L702.3 185.9L705.5 184.7L708.7 183.5L711.8 182.3L715.0 181.2L718.2 180.0L721.4 178.9L724.6 177.9L727.8 176.8L730.9 175.7L734.1 174.7L737.3 173.7L740.5 172.7L743.7 171.7L746.8 170.8L750.0 169.8L753.2 168.9L756.4 167.9L759.6 167.0L762.8 166.1L765.9 165.2L769.1 164.3L772.3 163.5L775.5 162.6L778.7 161.7L781.9 160.9L785.0 160.1L788.2 159.2L791.4 158.4L794.6 157.6L797.8 156.8L800.9 156.0L804.1 155.2L807.3 154.4L810.5 153.7L813.7 152.9L816.9 152.1L820.0 151.4L823.2 150.6L826.4 149.9L829.6 149.1L832.8 148.4L836.0 147.7L839.1 147.0L842.3 146.2L845.5 145.5" stroke="#0000ff"/>
<path d="M339.5 373.9L342.7 373.2L345.9 372.4L349.0 371.7L352.2 371.0L355.4 370.3L358.6 369.5L361.8 368.8L365.0 368.0L368.1 367.3L371.3 366.5L374.5 365.7L377.7 365.0L380.9 364.2L384.1 363.4L387.2 362.6L390.4 361.8L393.6 361.0L396.8 360.2L400.0 359.3L403.1 358.5L406.3 357.7L409.5 356.8L412.7 355.9L415.9 355.1L419.1 354.2L422.2 353.3L425.4 352.4L428.6 351.5L431.8 350.5L435.0 349.6L438.2 348.6L441.3 347.7L444.5 346.7L447.7 345.7L450.9 344.7L454.1 343.7L457.2 342.6L460.4 341.5L463.6 340.5L466.8 339.4L470.0 338.2L473.2 337.1L476.3 335.9L479.5 334.7L482.7 333.5L485.9 332.3L489.1 331.0L492.3 329.7L495.4 328.4L498.6 327.0L501.8 325.6L505.0 324.2L508.2 322.8L511.3 321.3L514.5 319.8L517.7 318.2L520.9 316.6L524.1 314.9L527.3 313.3L530.4 311.5L533.6 309.7L536.8 307.9L540.0 306.0L543.2 304.1L546.4 302.1L549.5 300.1L552.7 298.0L555.9 295.9L559.1 293.7L562.3 291.5L565.4 289.2L568.6 286.8L571.8 284.5L575.0 282.0L578.2 279.6L581.4 277.0L584.5 274.5L587.7 271.9L590.9 269.3L594.1 266.7L597.3 264.1L600.5 261.4L603.6 258.8L606.8 256.1L610.0 253.5L613.2 250.8L616.4 248.2L619.6 245.6L622.7 243.1L625.9 240.6L629.1 238.1L632.3 235.6L635.5 233.2L638.6 230.9L641.8 228.6L645.0 226.3L648.2 224.1L651.4 222.0L654.6 219.9L657.7 217.8L660.9 215.9L664.1 213.9L667.3 212.0L670.5 210.2L673.7 208.4L676.8 206.6L680.0 204.9L683.2 203.3L686.4 201.7L689.6 200.1L692.7 198.5L695.9 197.0L699.1 195.6L702.3 194.2L705.5 192.8L708.7 191.4L711.8 190.1L715.0 188.8L718.2 187.5L721.4 186.2L724.6 185.0L727.8 183.8L730.9 182.6L734.1 181.5L737.3 180.4L740.5 179.3L743.7 178.2L746.8 177.1L750.0 176.0L753.2 175.0L756.4 174.0L759.6 173.0L762.8 172.0L765.9 171.0L769.1 170.1L772.3 169.1L775.5 168.2L778.7 167.3L781.9 166.4L785.0 165.5L788.2 164.6L791.4 163.7L794.6 162.8L797.8 162.0L800.9 161.1L804.1 160.3L807.3 159.5L810.5 158.6L813.7 157.8L816.9 157.0L820.0 156.2L823.2 155.4L826.4 154.7L829.6 153.9L832.8 153.1L836.0 152.4L839.1 151.6L842.3 150.8L845.5 150.1" stroke="#0000ff"/>
<path d="M339.5 367.9L342.7 367.4L345.9 366.8L349.0 366.3L352.2 365.7L355.4 365.2L358.6 364.6L361.8 364.1L365.0 363.5L368.1 362.9L371.3 362.3L374.5 361.7L377.7 361.1L380.9 360.5L384.1 359.9L387.2 359.3L390.4 358.7L393.6 358.1L396.8 357.4L400.0 356.8L403.1 356.1L406.3 355.5L409.5 354.8L412.7 354.1L415.9 353.4L419.1 352.7L422.2 352.0L425.4 351.3L428.6 350.5L431.8 349.8L435.0 349.0L438.2 348.2L441.3 347.4L444.5 346.6L447.7 345.8L450.9 344.9L454.1 344.0L457.2 343.1L460.4 342.2L463.6 341.2L466.8 340.2L470.0 339.2L473.2 338.2L476.3 337.1L479.5 336.0L482.7 334.8L485.9 333.6L489.1 332.4L492.3 331.1L495.4 329.7L498.6 328.3L501.8 326.9L505.0 325.3L508.2 323.7L511.3 322.0L514.5 320.3L517.7 318.4L520.9 316.4L524.1 314.3L527.3 312.1L530.4 309.8L533.6 307.4L536.8 304.8L540.0 302.0L543.2 299.1L546.4 296.0L549.5 292.8L552.7 289.4L555.9 285.8L559.1 282.1L562.3 278.2L565.4 274.2L568.6 270.0L571.8 265.8L575.0 261.6L578.2 257.3L581.4 253.1L584.5 248.9L587.7 244.7L590.9 240.7L594.1 236.9L597.3 233.2L600.5 229.6L603.6 226.2L606.8 223.0L610.0 219.9L613.2 217.0L616.4 214.3L619.6 211.7L622.7 209.3L625.9 207.0L629.1 204.8L632.3 202.7L635.5 200.8L638.6 198.9L641.8 197.2L645.0 195.5L648.2 193.9L651.4 192.4L654.6 190.9L657.7 189.5L660.9 188.1L664.1 186.9L667.3 185.6L670.5 184.4L673.7 183.3L676.8 182.2L680.0 181.1L683.2 180.0L686.4 179.0L689.6 178.1L692.7 177.1L695.9 176.2L699.1 175.3L702.3 174.4L705.5 173.5L708.7 172.7L711.8 171.9L715.0 171.1L718.2 170.3L721.4 169.5L724.6 168.8L727.8 168.0L730.9 167.3L734.1 166.6L737.3 165.9L740.5 165.2L743.7 164.5L746.8 163.8L750.0 163.2L753.2 162.5L756.4 161.9L759.6 161.2L762.8 160.6L765.9 160.0L769.1 159.4L772.3 158.8L775.5 158.2L778.7 157.6L781.9 157.0L785.0 156.4L788.2 155.8L791.4 155.3L794.6 154.7L797.8 154.1L800.9 153.6L804.1 153.0L807.3 152.5L810.5 152.0L813.7 151.4L816.9 150.9L820.0 150.3L823.2 149.8L826.4 149.3L829.6 148.8L832.8 148.3L836.0 147.7L839.1 147.2L842.3 146.7L845.5 146.2" stroke="#008080"/>
<path d="M339.5 373.2L342.7 372.7L345.9 372.2L349.0 371.7L352.2 371.1L355.4 370.6L358.6 370.1L361.8 369.6L365.0 369.1L368.1 368.5L371.3 368.0L374.5 367.4L377.7 366.9L380.9 366.4L384.1 365.8L387.2 365.3L390.4 364.7L393.6 364.1L396.8 363.6L400.0 363.0L403.1 362.4L406.3 361.8L409.5 361.2L412.7 360.6L415.9 360.0L419.1 359.4L422.2 358.8L425.4 358.2L428.6 357.5L431.8 356.9L435.0 356.2L438.2 355.6L441.3 354.9L444.5 354.2L447.7 353.5L450.9 352.8L454.1 352.1L457.2 351.4L460.4 350.6L463.6 349.9L466.8 349.1L470.0 348.3L473.2 347.5L476.3 346.7L479.5 345.9L482.7 345.0L485.9 344.1L489.1 343.2L492.3 342.3L495.4 341.3L498.6 340.4L501.8 339.4L505.0 338.3L508.2 337.2L511.3 336.1L514.5 335.0L517.7 333.8L520.9 332.5L524.1 331.3L527.3 329.9L530.4 328.5L533.6 327.0L536.8 325.5L540.0 323.9L543.2 322.2L546.4 320.5L549.5 318.6L552.7 316.7L555.9 314.6L559.1 312.4L562.3 310.1L565.4 307.7L568.6 305.1L571.8 302.4L575.0 299.5L578.2 296.4L581.4 293.2L584.5 289.8L587.7 286.2L590.9 282.5L594.1 278.7L597.3 274.7L600.5 270.5L603.6 266.3L606.8 262.1L610.0 257.8L613.2 253.6L616.4 249.4L619.6 245.2L622.7 241.2L625.9 237.3L629.1 233.6L632.3 230.0L635.5 226.6L638.6 223.4L641.8 220.3L645.0 217.4L648.2 214.6L651.4 212.0L654.6 209.6L657.7 207.3L660.9 205.1L664.1 203.0L667.3 201.0L670.5 199.1L673.7 197.4L676.8 195.7L680.0 194.1L683.2 192.5L686.4 191.1L689.6 189.7L692.7 188.3L695.9 187.0L699.1 185.8L702.3 184.6L705.5 183.4L708.7 182.3L711.8 181.2L715.0 180.2L718.2 179.2L721.4 178.2L724.6 177.2L727.8 176.3L730.9 175.4L734.1 174.5L737.3 173.6L740.5 172.8L743.7 172.0L746.8 171.2L750.0 170.4L753.2 169.6L756.4 168.9L759.6 168.1L762.8 167.4L765.9 166.7L769.1 166.0L772.3 165.3L775.5 164.6L778.7 163.9L781.9 163.3L785.0 162.6L788.2 162.0L791.4 161.3L794.6 160.7L797.8 160.1L800.9 159.5L804.1 158.9L807.3 158.3L810.5 157.7L813.7 157.1L816.9 156.5L820.0 155.9L823.2 155.3L826.4 154.8L829.6 154.2L832.8 153.7L836.0 153.1L839.1 152.6L842.3 152.0L845.5 151.5" stroke="#008080"/>
</g>
<g fill="#000">
<text transform="translate(133.99 113.88) scale(1.0149 1)" style="font-family:'Liberation Sans',Arial,sans-serif;font-weight:bold;font-size:50.56px">15</text>
<text transform="translate(135.34 272.75) scale(1.0452 1)" style="font-family:'Liberation Sans',Arial,sans-serif;font-weight:bold;font-size:49.24px">10</text>
<text transform="translate(166.67 440.36) scale(1.0051 1)" style="font-family:'Liberation Sans',Arial,sans-serif;font-weight:bold;font-size:50.16px">5</text>
<text transform="translate(167.83 601.16) scale(1.0596 1)" style="font-family:'Liberation Sans',Arial,sans-serif;font-weight:bold;font-size:51.12px">0</text>
<text transform="translate(137.98 754.96) scale(0.8375 1)" style="font-family:'Liberation Sans',Arial,sans-serif;font-weight:bold;font-size:52.85px">−5</text>
<text transform="translate(110.98 916.14) scale(1.0672 1)" style="font-family:'Liberation Sans',Arial,sans-serif;font-weight:bold;font-size:47.21px">−10</text>
<text transform="translate(110.99 1076.45) scale(1.0603 1)" style="font-family:'Liberation Sans',Arial,sans-serif;font-weight:bold;font-size:47.46px">−15</text>
<text transform="translate(167.85 1192.39) scale(1.0000 1)" style="font-family:'Liberation Sans',Arial,sans-serif;font-weight:bold;font-size:52.10px">−20,000</text>
<text transform="translate(505.35 1192.34) scale(1.0000 1)" style="font-family:'Liberation Sans',Arial,sans-serif;font-weight:bold;font-size:52.01px">−10,000</text>
<text transform="translate(927.45 1192.09) scale(1.0188 1)" style="font-family:'Liberation Sans',Arial,sans-serif;font-weight:bold;font-size:50.46px">0</text>
<text transform="translate(1213.16 1194.04) scale(1.0000 1)" style="font-family:'Liberation Sans',Arial,sans-serif;font-weight:bold;font-size:53.26px">10,000</text>
<text transform="translate(1558.01 1193.77) scale(1.0000 1)" style="font-family:'Liberation Sans',Arial,sans-serif;font-weight:bold;font-size:52.92px">20,000</text>
<text transform="translate(861.97 1266.26) scale(1.0110 1)" style="font-family:'Liberation Sans',Arial,sans-serif;font-weight:bold;font-size:56.80px">H (Oe)</text>
<text transform="translate(93.39 738.90) rotate(-90) scale(0.9708 1)" style="font-family:'Liberation Sans',Arial,sans-serif;font-weight:bold;font-size:74.06px">M (emu.g<tspan dy="-0.66em" style="font-size:0.65em">−1</tspan><tspan dy="0.43em">)</tspan></text>
<text transform="translate(1257.52 678.01) scale(0.9759 1)" style="font-family:'Liberation Sans',Arial,sans-serif;font-weight:bold;font-size:50.11px">CuMgFe-2LDO</text>
<text transform="translate(1257.52 740.48) scale(0.9986 1)" style="font-family:'Liberation Sans',Arial,sans-serif;font-weight:bold;font-size:48.97px">CuMgFe-3LDO</text>
<text transform="translate(1257.52 802.45) scale(1.0144 1)" style="font-family:'Liberation Sans',Arial,sans-serif;font-weight:bold;font-size:48.21px">CuMgFe-4LDO</text>
<text transform="translate(1257.52 864.49) scale(1.0042 1)" style="font-family:'Liberation Sans',Arial,sans-serif;font-weight:bold;font-size:48.69px">CuMgFe-5LDO</text>
<text transform="translate(276.94 71.29) scale(0.9571 1)" style="font-family:'Liberation Sans',Arial,sans-serif;font-size:44.14px">10</text>
<text transform="translate(300.69 171.92) scale(0.9835 1)" style="font-family:'Liberation Sans',Arial,sans-serif;font-size:44.75px">5</text>
<text transform="translate(300.66 272.89) scale(0.9461 1)" style="font-family:'Liberation Sans',Arial,sans-serif;font-size:46.10px">0</text>
<text transform="translate(285.46 373.93) scale(0.9959 1)" style="font-family:'Liberation Sans',Arial,sans-serif;font-size:45.90px">-5</text>
<text transform="translate(261.62 473.78) scale(0.9418 1)" style="font-family:'Liberation Sans',Arial,sans-serif;font-size:47.23px">-10</text>
<text transform="translate(580.00 518.26) scale(0.9819 1)" style="font-family:'Liberation Sans',Arial,sans-serif;font-size:50.92px">0</text>
</g>
</g>
</svg></body></html>
